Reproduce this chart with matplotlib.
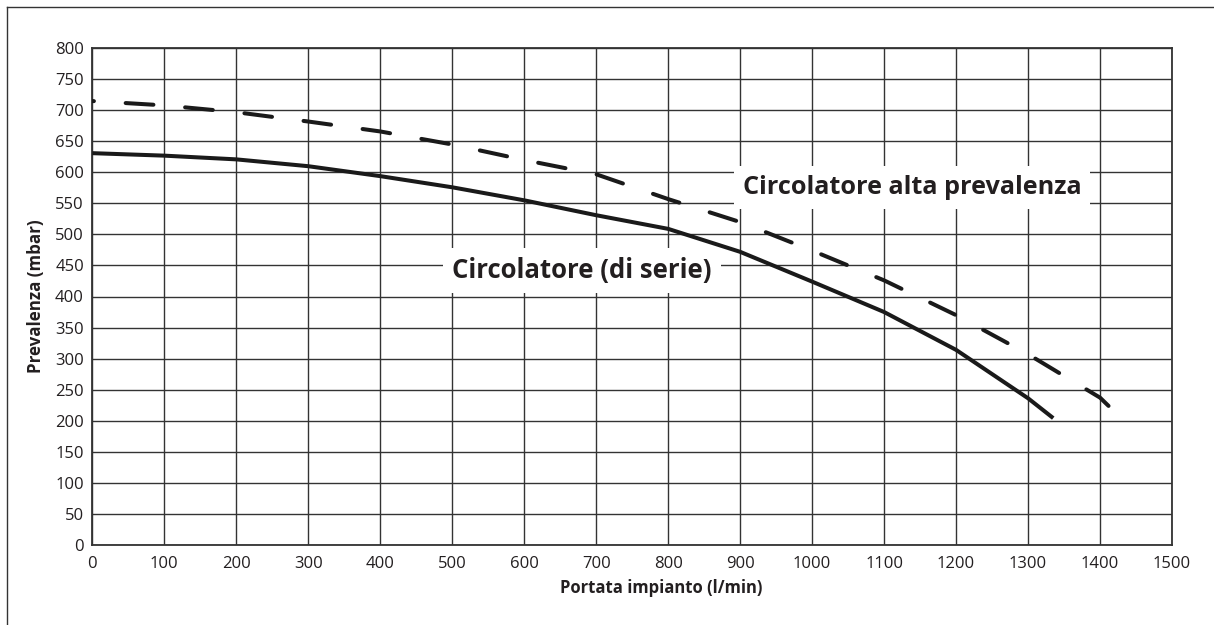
import matplotlib
matplotlib.use("Agg")
import matplotlib.pyplot as plt
from matplotlib.lines import Line2D

# ---- data ----
flow_standard = [0, 100, 200, 300, 400, 500, 600, 700, 800, 900, 1000, 1100, 1200, 1300, 1335]
head_standard = [631, 627, 621, 610, 594, 576, 555, 531, 509, 472, 424, 375, 314, 236, 204]

flow_high = [0, 100, 200, 300, 400, 500, 600, 700, 800, 900, 1000, 1100, 1200, 1300, 1400, 1416]
head_high = [715, 708, 697, 682, 666, 645, 620, 597, 557, 520, 474, 426, 370, 307, 237, 219]

x_ticks = list(range(0, 1501, 100))
y_ticks = list(range(0, 801, 50))

label_standard = "Circolatore (di serie)"
label_high = "Circolatore alta prevalenza"
x_label = "Portata impianto (l/min)"
y_label = "Prevalenza (mbar)"

# ---- style ----
plt.rcParams['font.family'] = ['Open Sans', 'DejaVu Sans']
W, H = 1214, 625
fig = plt.figure(figsize=(W / 100, H / 100), dpi=100)
L, R, T, B = 92.3, 1172, 48.3, 544.7
ax = fig.add_axes([L / W, 1 - B / H, (R - L) / W, (B - T) / H])

grid_c = '#333333'
line_c = '#1a1a1a'
text_c = '#231f20'

ax.set_xlim(0, 1500)
ax.set_ylim(0, 800)
ax.set_xticks(x_ticks)
ax.set_yticks(y_ticks)
ax.grid(True, color=grid_c, linewidth=1.0)
ax.set_axisbelow(True)
for s in ax.spines.values():
    s.set_color(grid_c)
    s.set_linewidth(1.3)
ax.tick_params(length=0, labelsize=12, colors=text_c)
ax.tick_params(axis='x', pad=8)
ax.tick_params(axis='y', pad=6)

ax.plot(flow_standard, head_standard, color=line_c, linewidth=2.9,
        solid_capstyle='butt', solid_joinstyle='round', zorder=5)
ax.plot(flow_high, head_high, color=line_c, linewidth=2.9,
        linestyle=(6.5, (6.9, 7.9)), dash_capstyle='round', zorder=5)

box = dict(boxstyle='square,pad=0.35', fc='white', ec='none')
t_high = ax.text(1139, 576, label_high, ha='center', va='center', fontsize=18,
                 fontweight='bold', color=text_c, bbox=box, zorder=4)
t_std = ax.text(680, 441.5, label_standard, ha='center', va='center', fontsize=18,
                fontweight='bold', color=text_c, bbox=box, zorder=4)

xl = fig.text(661 / W, 1 - 588 / H, x_label, ha='center', va='center',
              fontsize=11, fontweight='bold', color=text_c)
yl = fig.text(36 / W, 1 - 296.5 / H, y_label, ha='center', va='center', rotation=90,
              fontsize=11, fontweight='bold', color=text_c)

# fit text sizes to measured widths
fig.canvas.draw()
r = fig.canvas.get_renderer()
for t, target, use_h in [(t_high, 341, False), (t_std, 260, False), (xl, 203, False), (yl, 153, True)]:
    bb = t.get_window_extent(r)
    cur = bb.height if use_h else bb.width
    t.set_fontsize(t.get_fontsize() * target / cur)

# figure border (left and top)
fig.add_artist(Line2D([6.5 / W, 6.5 / W], [0, 1 - 6.5 / H], transform=fig.transFigure,
                      color=grid_c, linewidth=1.0))
fig.add_artist(Line2D([6.5 / W, 1], [1 - 6.5 / H, 1 - 6.5 / H], transform=fig.transFigure,
                      color=grid_c, linewidth=1.0))

fig.savefig('out.png', dpi=100)
